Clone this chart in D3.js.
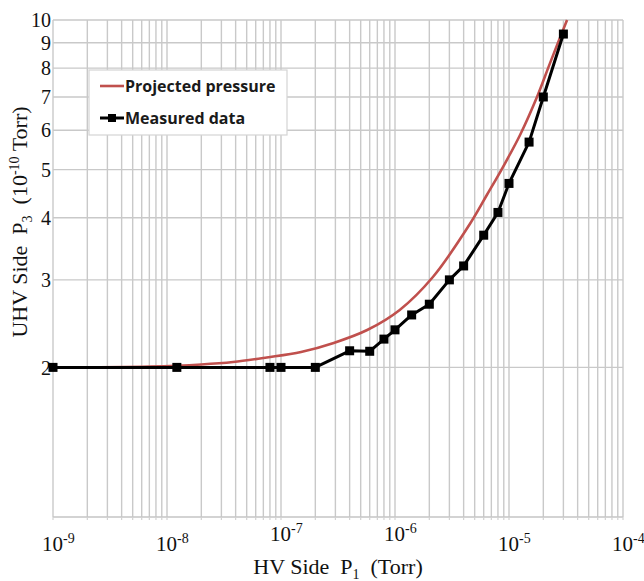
<!DOCTYPE html>
<html lang="en">
<head>
<meta charset="UTF-8">
<title>UHV vs HV side pressure</title>
<script src="https://d3js.org/d3.v7.min.js"></script>
<style>
    body { margin: 0; background: #fff; }
    .tick-label { font-family: "Liberation Serif", "Times New Roman", serif; fill: #111; }
    .axis-title { font-family: "Liberation Serif", "Times New Roman", serif; fill: #111; font-size: 22px; }
    .legend-text { font-family: "Open Sans", "Liberation Sans", sans-serif; font-weight: 700; font-size: 16px; fill: #1a1a1a; }
</style>
</head>
<body>
<svg id="chart" width="644" height="581"></svg>
<script>
    // tick values
    const xTickExps = [-9, -8, -7, -6, -5, -4];
    const raisedExps = [-7, -6];   // these two labels sit higher in the original
    const yTicks = [2, 3, 4, 5, 6, 7, 8, 9, 10];

    // projected pressure curve
    const projectedP1 = [1e-9, 7.1e-9, 2e-8, 3.8e-8, 7.5e-8, 1.5e-7, 2.9e-7, 5.7e-7, 1.1e-6, 2.15e-6, 4.55e-6, 6.41e-6, 8.85e-6, 1.25e-5, 1.76e-5, 2.29e-5, 3.23e-5];
    const projectedP3 = [2.0, 2.008, 2.027, 2.05, 2.094, 2.148, 2.24, 2.378, 2.61, 3.04, 3.89, 4.45, 5.06, 5.87, 7.0, 8.19, 10.0];

    // measured data
    const measuredP1 = [1e-9, 1.22e-8, 8e-8, 1e-7, 2e-7, 4e-7, 6e-7, 8e-7, 1e-6, 1.4e-6, 2e-6, 3e-6, 4e-6, 6e-6, 8e-6, 1e-5, 1.5e-5, 2e-5, 3e-5];
    const measuredP3 = [2.0, 2.0, 2.0, 2.0, 2.0, 2.16, 2.155, 2.28, 2.38, 2.55, 2.68, 3.0, 3.2, 3.69, 4.1, 4.69, 5.68, 7.0, 9.37];

    const svg = d3.select("#chart");
    const mLeft = 53, mRight = 623, mTop = 20, mBottom = 517;

    const x = d3.scaleLog().domain([1e-9, 1e-4]).range([mLeft, mRight]);
    const y = d3.scaleLog().domain([1, 10]).range([mBottom, mTop]);

    const gridColor = "#c9c9c9";

    // vertical grid: every 1..9 x 10^n
    const xGrid = [];
    xTickExps.forEach(e => {
        if (e === -4) { xGrid.push(1e-4); return; }
        for (let k = 1; k <= 9; k++) xGrid.push(k * Math.pow(10, e));
    });

    const grid = svg.append("g");
    grid.selectAll("line.vx")
        .data(xGrid)
        .enter()
        .append("line")
        .attr("x1", d => x(d)).attr("x2", d => x(d))
        .attr("y1", mTop).attr("y2", mBottom)
        .attr("stroke", gridColor)
        .attr("stroke-width", 1.4);

    grid.selectAll("line.hy")
        .data(yTicks)
        .enter()
        .append("line")
        .attr("x1", mLeft).attr("x2", mRight)
        .attr("y1", d => y(d)).attr("y2", d => y(d))
        .attr("stroke", gridColor)
        .attr("stroke-width", 1.4);

    // bottom axis line with small minor ticks
    grid.append("line")
        .attr("x1", mLeft).attr("x2", mRight)
        .attr("y1", mBottom).attr("y2", mBottom)
        .attr("stroke", "#c4c4c4").attr("stroke-width", 1.6);
    grid.selectAll("line.mt")
        .data(xGrid)
        .enter()
        .append("line")
        .attr("x1", d => x(d)).attr("x2", d => x(d))
        .attr("y1", mBottom).attr("y2", mBottom + 3)
        .attr("stroke", "#d2d2d2").attr("stroke-width", 1.2);

    // y tick labels
    svg.append("g").selectAll("text")
        .data(yTicks)
        .enter()
        .append("text")
        .attr("class", "tick-label")
        .attr("x", mLeft - 2)
        .attr("y", d => y(d))
        .attr("dy", "0.36em")
        .attr("text-anchor", "end")
        .attr("font-size", 20)
        .text(d => d);

    // x tick labels 10^n
    const xl = svg.append("g").selectAll("text")
        .data(xTickExps)
        .enter()
        .append("text")
        .attr("class", "tick-label")
        .attr("x", d => x(Math.pow(10, d)) - 11)
        .attr("y", d => raisedExps.includes(d) ? 541 : 551)
        .attr("font-size", 21);
    xl.append("tspan").text("10");
    xl.append("tspan")
        .attr("dy", -8)
        .attr("font-size", 14)
        .text(d => "-" + Math.abs(d));

    // axis titles
    const xt = svg.append("text")
        .attr("class", "axis-title")
        .attr("x", 338)
        .attr("y", 574)
        .attr("text-anchor", "middle")
        .attr("xml:space", "preserve");
    xt.append("tspan").text("HV Side  P");
    xt.append("tspan").attr("dy", 5).attr("font-size", 14).text("1");
    xt.append("tspan").attr("dy", -5).text("  (Torr)");

    const yt = svg.append("text")
        .attr("class", "axis-title")
        .attr("transform", "translate(27,222) rotate(-90)")
        .attr("text-anchor", "middle")
        .attr("xml:space", "preserve");
    yt.append("tspan").text("UHV Side  P");
    yt.append("tspan").attr("dy", 5).attr("font-size", 14).text("3");
    yt.append("tspan").attr("dy", -5).text("  (10");
    yt.append("tspan").attr("dy", -8).attr("font-size", 14).text("-10");
    yt.append("tspan").attr("dy", 8).text(" Torr)");

    // series
    svg.append("clipPath").attr("id", "plot-clip")
        .append("rect")
        .attr("x", mLeft).attr("y", mTop - 1)
        .attr("width", mRight - mLeft).attr("height", mBottom - mTop + 1);

    const projected = projectedP1.map((p, i) => [p, projectedP3[i]]);
    const measured = measuredP1.map((p, i) => [p, measuredP3[i]]);

    const smooth = d3.line()
        .x(d => x(d[0])).y(d => y(d[1]))
        .curve(d3.curveCatmullRom.alpha(0.5));
    const straight = d3.line()
        .x(d => x(d[0])).y(d => y(d[1]));

    svg.append("path")
        .datum(projected)
        .attr("clip-path", "url(#plot-clip)")
        .attr("d", smooth)
        .attr("fill", "none")
        .attr("stroke", "#c0504d")
        .attr("stroke-width", 2.6);

    svg.append("path")
        .datum(measured)
        .attr("d", straight)
        .attr("fill", "none")
        .attr("stroke", "#000")
        .attr("stroke-width", 3)
        .attr("stroke-linejoin", "round");

    const ms = 9;
    svg.append("g").selectAll("rect")
        .data(measured)
        .enter()
        .append("rect")
        .attr("x", d => x(d[0]) - ms / 2)
        .attr("y", d => y(d[1]) - ms / 2)
        .attr("width", ms).attr("height", ms)
        .attr("fill", "#000");

    // legend
    const lg = svg.append("g");
    lg.append("rect")
        .attr("x", 89).attr("y", 70)
        .attr("width", 198).attr("height", 65)
        .attr("fill", "#fff")
        .attr("stroke", "#d4d4d4")
        .attr("stroke-width", 1.2);
    lg.append("line")
        .attr("x1", 100).attr("x2", 124)
        .attr("y1", 86).attr("y2", 86)
        .attr("stroke", "#c0504d").attr("stroke-width", 2.6);
    lg.append("text").attr("class", "legend-text")
        .attr("x", 125).attr("y", 91.5)
        .text("Projected pressure");
    lg.append("line")
        .attr("x1", 100).attr("x2", 124)
        .attr("y1", 118).attr("y2", 118)
        .attr("stroke", "#000").attr("stroke-width", 3);
    lg.append("rect")
        .attr("x", 112 - 4).attr("y", 118 - 4)
        .attr("width", 8).attr("height", 8)
        .attr("fill", "#000");
    lg.append("text").attr("class", "legend-text")
        .attr("x", 125).attr("y", 123.5)
        .text("Measured data");
</script>
</body>
</html>
